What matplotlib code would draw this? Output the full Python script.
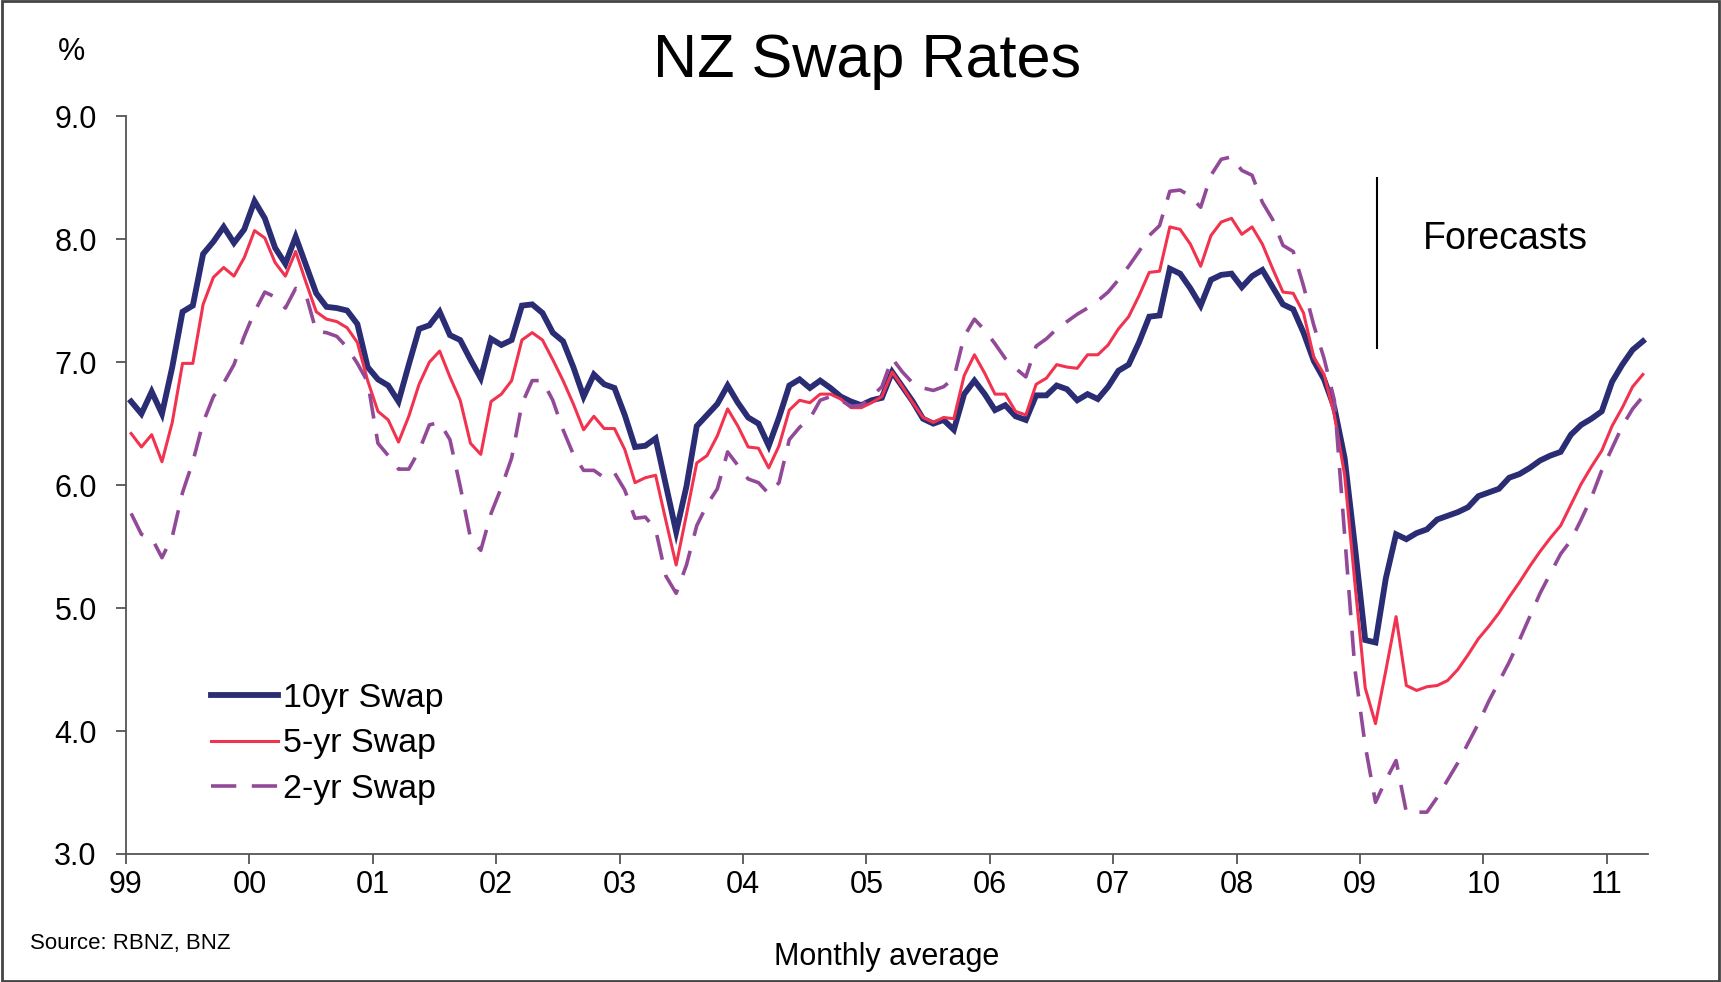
import numpy as np
import matplotlib
matplotlib.use("Agg")
import matplotlib.pyplot as plt
from matplotlib.patches import Rectangle

plt.rcParams['font.family'] = ['Liberation Sans', 'DejaVu Sans']

# monthly averages, Jan 1999 - Apr 2011 (forecasts from early 2009)
swap10 = [6.68, 6.58, 6.76, 6.58, 6.96, 7.41, 7.46, 7.88, 7.98, 8.10, 7.97, 8.08,
          8.31, 8.17, 7.93, 7.80, 8.02, 7.79, 7.56, 7.45, 7.44, 7.42, 7.31, 6.96,
          6.86, 6.81, 6.68, 6.98, 7.27, 7.30, 7.41, 7.22, 7.18, 7.02, 6.87, 7.19,
          7.14, 7.18, 7.46, 7.47, 7.40, 7.24, 7.17, 6.96, 6.72, 6.90, 6.82, 6.79,
          6.57, 6.31, 6.32, 6.38, 6.00, 5.62, 5.99, 6.48, 6.57, 6.66, 6.81, 6.67,
          6.55, 6.50, 6.32, 6.55, 6.81, 6.86, 6.79, 6.85, 6.79, 6.72, 6.68, 6.65,
          6.69, 6.71, 6.92, 6.80, 6.68, 6.54, 6.50, 6.53, 6.45, 6.74, 6.85, 6.74,
          6.61, 6.65, 6.56, 6.53, 6.73, 6.73, 6.81, 6.78, 6.69, 6.74, 6.70, 6.80,
          6.93, 6.98, 7.16, 7.37, 7.38, 7.76, 7.72, 7.60, 7.46, 7.67, 7.71, 7.72,
          7.61, 7.70, 7.75, 7.61, 7.47, 7.43, 7.24, 7.01, 6.86, 6.63, 6.22, 5.50,
          4.74, 4.72, 5.24, 5.60, 5.56, 5.61, 5.64, 5.72, 5.75, 5.78, 5.82, 5.91,
          5.94, 5.97, 6.06, 6.09, 6.14, 6.20, 6.24, 6.27, 6.41, 6.49, 6.54, 6.60,
          6.84, 6.98, 7.10, 7.17]

swap5 = [6.42, 6.31, 6.41, 6.19, 6.51, 6.99, 6.99, 7.47, 7.69, 7.77, 7.70, 7.85,
         8.07, 8.01, 7.81, 7.70, 7.90, 7.65, 7.41, 7.35, 7.33, 7.28, 7.16, 6.85,
         6.60, 6.53, 6.35, 6.56, 6.82, 7.00, 7.09, 6.88, 6.69, 6.34, 6.25, 6.68,
         6.74, 6.85, 7.18, 7.24, 7.18, 7.02, 6.85, 6.66, 6.45, 6.56, 6.46, 6.46,
         6.29, 6.02, 6.06, 6.08, 5.71, 5.35, 5.76, 6.18, 6.24, 6.40, 6.62, 6.48,
         6.31, 6.30, 6.14, 6.32, 6.61, 6.69, 6.67, 6.74, 6.74, 6.70, 6.63, 6.63,
         6.67, 6.72, 6.92, 6.80, 6.67, 6.55, 6.51, 6.55, 6.54, 6.89, 7.06, 6.91,
         6.74, 6.74, 6.60, 6.57, 6.82, 6.87, 6.98, 6.96, 6.95, 7.06, 7.06, 7.14,
         7.27, 7.37, 7.54, 7.73, 7.74, 8.10, 8.08, 7.96, 7.78, 8.03, 8.14, 8.17,
         8.04, 8.10, 7.96, 7.76, 7.57, 7.56, 7.40, 7.04, 6.90, 6.57, 6.08, 5.20,
         4.35, 4.06, 4.49, 4.93, 4.37, 4.33, 4.36, 4.37, 4.41, 4.50, 4.62, 4.75,
         4.85, 4.96, 5.09, 5.21, 5.34, 5.46, 5.57, 5.67, 5.84, 6.01, 6.15, 6.28,
         6.48, 6.63, 6.80, 6.90]

swap2 = [5.77, 5.60, 5.57, 5.41, 5.58, 5.94, 6.19, 6.51, 6.72, 6.83, 6.98, 7.21,
         7.41, 7.57, 7.53, 7.44, 7.60, 7.55, 7.25, 7.24, 7.21, 7.12, 6.99, 6.84,
         6.34, 6.24, 6.13, 6.13, 6.28, 6.49, 6.51, 6.37, 5.99, 5.57, 5.47, 5.77,
         5.98, 6.22, 6.66, 6.85, 6.85, 6.69, 6.45, 6.25, 6.12, 6.12, 6.06, 6.10,
         5.96, 5.73, 5.74, 5.64, 5.26, 5.12, 5.35, 5.67, 5.84, 5.97, 6.27, 6.16,
         6.05, 6.02, 5.93, 6.02, 6.37, 6.47, 6.54, 6.69, 6.72, 6.69, 6.64, 6.65,
         6.72, 6.80, 7.03, 6.92, 6.83, 6.79, 6.77, 6.80, 6.87, 7.21, 7.35, 7.26,
         7.15, 7.03, 6.95, 6.88, 7.13, 7.19, 7.27, 7.33, 7.39, 7.44, 7.50, 7.57,
         7.67, 7.78, 7.90, 8.03, 8.11, 8.39, 8.40, 8.35, 8.26, 8.52, 8.65, 8.67,
         8.56, 8.52, 8.30, 8.16, 7.95, 7.90, 7.62, 7.30, 7.03, 6.69, 5.60, 4.50,
         3.88, 3.42, 3.60, 3.76, 3.34, 3.34, 3.34, 3.46, 3.60, 3.74, 3.90, 4.06,
         4.24, 4.40, 4.56, 4.74, 4.93, 5.12, 5.28, 5.44, 5.55, 5.72, 5.90, 6.12,
         6.30, 6.48, 6.62, 6.72]

year_labels = ['99', '00', '01', '02', '03', '04', '05', '06', '07', '08', '09', '10', '11']
forecast_start = 121.6   # months after Jan 99

x = np.arange(len(swap10)) + 0.5

fig = plt.figure(figsize=(17.21, 9.82), dpi=100)
ax = fig.add_axes([0.0732, 0.1304, 0.8844, 0.7512])

ax.plot(x, swap10, color='#2a2c74', lw=4.2, solid_joinstyle='miter', label='10yr Swap')
ax.plot(x, swap5, color='#f2334f', lw=2.2, label='5-yr Swap')
ax.plot(x, swap2, color='#924a98', lw=2.6, dashes=(7, 4.3), dash_capstyle='butt',
        label='2-yr Swap')

ax.vlines(forecast_start, 7.11, 8.51, color='black', lw=1.5)
ax.text(forecast_start + 4.5, 8.0, 'Forecasts', fontsize=27, va='center', ha='left')

ax.set_xlim(0, 148)
ax.set_ylim(3, 9)
ax.set_xticks(np.arange(len(year_labels)) * 12)
ax.set_xticklabels(year_labels)
ax.set_yticks(np.arange(3, 9.1, 1))
ax.set_yticklabels(['%.1f' % v for v in np.arange(3, 9.1, 1)])

for s in ['top', 'right']:
    ax.spines[s].set_visible(False)
for s in ['left', 'bottom']:
    ax.spines[s].set_color('#555555')
    ax.spines[s].set_linewidth(1.3)
ax.tick_params(axis='both', direction='out', length=7, width=1.3, color='#555555',
               labelsize=22)
ax.tick_params(axis='y', pad=14)
ax.tick_params(axis='x', pad=4.5)

ax.set_xlabel('Monthly average', fontsize=22, labelpad=30)

leg = ax.legend(loc='upper left', bbox_to_anchor=(0.036, 0.273), frameon=False,
                fontsize=24.5, handlelength=1.96, handletextpad=0.15, labelspacing=0.42)

fig.text(0.504, 0.937, 'NZ Swap Rates', fontsize=44, ha='center', va='center')
fig.text(0.0413, 0.947, '%', fontsize=22, ha='center', va='center')
fig.text(0.0175, 0.039, 'Source: RBNZ, BNZ', fontsize=16, ha='left', va='center')

fig.patches.append(Rectangle((0.001, 0.001), 0.998, 0.998, transform=fig.transFigure,
                             fill=False, edgecolor='#444444', lw=2))

fig.savefig('out.png', dpi=100)
